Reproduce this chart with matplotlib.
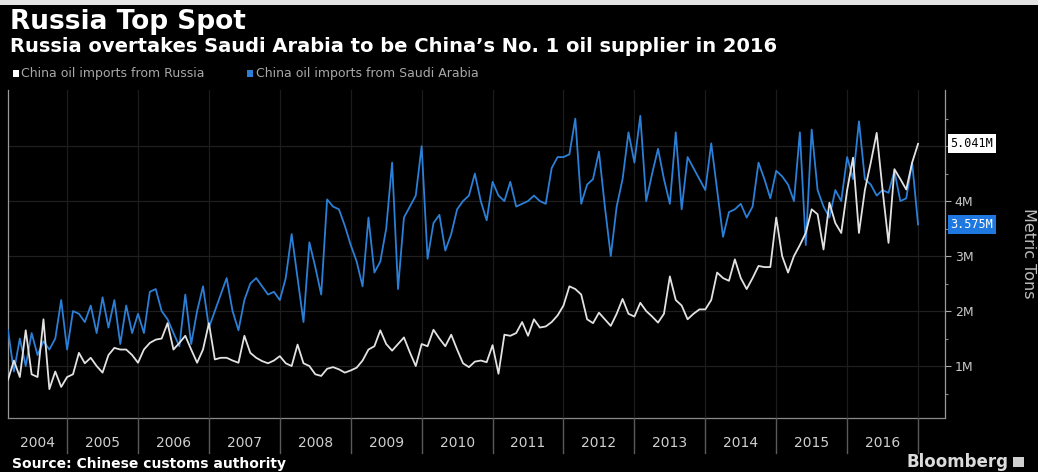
import matplotlib
matplotlib.use("Agg")
import matplotlib.pyplot as plt
from matplotlib.patches import Rectangle
import numpy as np

# ---------------- data (million metric tons, monthly Feb 2004 - Dec 2016) ----------------
start_year, start_month = 2004, 2
russia = [
    0.75, 1.1, 0.8, 1.65, 0.85, 0.8, 1.85, 0.58, 0.9, 0.62,
    0.8, 0.85, 1.24, 1.05, 1.15, 1.0, 0.88, 1.2, 1.33, 1.3,
    1.3, 1.2, 1.06, 1.3, 1.42, 1.48, 1.5, 1.78, 1.3, 1.42,
    1.55, 1.3, 1.06, 1.3, 1.78, 1.12, 1.15, 1.15, 1.1, 1.06,
    1.55, 1.24, 1.15, 1.09, 1.05, 1.1, 1.18, 1.05, 1.0, 1.39,
    1.05, 1.0, 0.85, 0.82, 0.95, 0.98, 0.94, 0.88, 0.92, 0.97,
    1.1, 1.3, 1.36, 1.65, 1.4, 1.28, 1.4, 1.52, 1.25, 1.0,
    1.4, 1.36, 1.66, 1.5, 1.36, 1.57, 1.3, 1.05, 0.98, 1.08,
    1.1, 1.07, 1.38, 0.86, 1.57, 1.55, 1.6, 1.8, 1.55, 1.85,
    1.7, 1.72, 1.8, 1.92, 2.1, 2.45, 2.4, 2.3, 1.85, 1.78,
    1.97, 1.85, 1.73, 1.95, 2.22, 1.95, 1.9, 2.15, 2.0, 1.9,
    1.79, 1.95, 2.63, 2.2, 2.1, 1.85, 1.95, 2.03, 2.03, 2.2,
    2.7, 2.6, 2.55, 2.94, 2.6, 2.4, 2.6, 2.82, 2.8, 2.8,
    3.7, 3.0, 2.7, 3.0, 3.2, 3.42, 3.85, 3.76, 3.12, 3.97,
    3.6, 3.42, 4.2, 4.79, 3.42, 4.2, 4.7, 5.24, 4.2, 3.24,
    4.58, 4.4, 4.21, 4.7, 5.041,
]
saudi = [
    1.65, 0.9, 1.5, 1.0, 1.6, 1.2, 1.45, 1.3, 1.5, 2.2,
    1.3, 2.0, 1.95, 1.8, 2.1, 1.6, 2.25, 1.7, 2.2, 1.4,
    2.1, 1.6, 1.95, 1.6, 2.35, 2.4, 2.0, 1.85, 1.6, 1.36,
    2.3, 1.4, 2.0, 2.45, 1.7, 2.0, 2.3, 2.6, 2.0, 1.65,
    2.2, 2.5, 2.6, 2.45, 2.3, 2.35, 2.2, 2.6, 3.4, 2.6,
    1.8, 3.25, 2.8, 2.3, 4.03, 3.9, 3.85, 3.55, 3.2, 2.9,
    2.45, 3.7, 2.7, 2.9, 3.5, 4.7, 2.4, 3.7, 3.9, 4.1,
    5.0, 2.95, 3.6, 3.75, 3.1, 3.4, 3.85, 4.0, 4.1, 4.5,
    4.0, 3.65, 4.35, 4.1, 4.0, 4.35, 3.9, 3.95, 4.0, 4.1,
    4.0, 3.95, 4.6, 4.8, 4.8, 4.85, 5.5, 3.95, 4.3, 4.4,
    4.9, 3.9, 3.0, 3.9, 4.4, 5.25, 4.7, 5.55, 4.0, 4.5,
    4.95, 4.4, 3.95, 5.25, 3.85, 4.8, 4.6, 4.4, 4.2, 5.05,
    4.2, 3.35, 3.8, 3.85, 3.95, 3.7, 3.9, 4.7, 4.4, 4.05,
    4.55, 4.45, 4.3, 4.0, 5.25, 3.2, 5.3, 4.2, 3.9, 3.7,
    4.2, 4.0, 4.8, 4.4, 5.45, 4.4, 4.3, 4.1, 4.2, 4.15,
    4.55, 4.0, 4.05, 4.7, 3.575,
]
years = list(range(2004, 2017))
ytick_values = [1, 2, 3, 4]
ytick_labels = ["1M", "2M", "3M", "4M"]
series_names = ["China oil imports from Russia", "China oil imports from Saudi Arabia"]

# monthly positions in decimal years (month-end)
n = len(russia)
x = np.array([start_year + (start_month + i) / 12.0 for i in range(n)])

W, H = 1038, 472
def fx(px):
    return px / W
def fy(py):
    return 1 - py / H

BLUE = "#2b7fd6"
WHITE = "#e2e2e2"

fig = plt.figure(figsize=(W / 100, H / 100), dpi=100, facecolor="black")
fig.patches.append(Rectangle((0, fy(5)), 1, 5 / H, transform=fig.transFigure,
                             facecolor="#e4e4e4", edgecolor="none"))

# main axes
ax = fig.add_axes([fx(8), (H - 418) / H, (945 - 8) / W, (418 - 90) / H])
ax.set_facecolor("black")
ax.plot(x, saudi, color=BLUE, lw=1.3, zorder=3)
ax.plot(x, russia, color=WHITE, lw=1.3, zorder=4)
xl = (x[0], 2017.38)
ax.set_xlim(*xl)
ax.set_ylim(0.055, 6.02)

for v in range(1, 6):
    ax.axhline(v, color="#1f1f1f", lw=0.9, zorder=1)
for yr in years[1:] + [2017]:
    ax.axvline(yr, color="#1c1c1c", lw=0.9, zorder=1)

ax.yaxis.tick_right()
ax.set_yticks(ytick_values)
ax.set_yticklabels(ytick_labels)
ax.set_yticks(np.arange(0.5, 6.0, 0.5), minor=True)
ax.tick_params(axis="y", which="major", colors="#aaaaaa", labelcolor="#c8c8c8",
               length=4, width=0.8, pad=3, labelsize=9)
ax.tick_params(axis="y", which="minor", colors="#888888", length=2, width=0.8)
ax.set_xticks([])
ax.spines["top"].set_visible(False)
ax.spines["left"].set_color("#9a9a9a")
ax.spines["right"].set_color("#9a9a9a")
ax.spines["bottom"].set_color("#8a8a8a")
for s in ax.spines.values():
    s.set_linewidth(0.9)

# value tags
tr = ax.get_yaxis_transform()
ax.text(1.006, russia[-1], f"{russia[-1]:.3f}M", transform=tr, ha="left", va="center",
        fontsize=8.5, color="black", family="DejaVu Sans Mono",
        bbox=dict(boxstyle="square,pad=0.25", facecolor="white", edgecolor="none"),
        clip_on=False, zorder=10)
ax.text(1.006, saudi[-1], f"{saudi[-1]:.3f}M", transform=tr, ha="left", va="center",
        fontsize=8.5, color="white", family="DejaVu Sans Mono",
        bbox=dict(boxstyle="square,pad=0.25", facecolor="#1f78e0", edgecolor="none"),
        clip_on=False, zorder=10)

# year band
band = fig.add_axes([fx(8), (H - 455) / H, (945 - 8) / W, (455 - 418) / H])
band.set_xlim(*xl)
band.set_ylim(0, 1)
band.axis("off")
for yr in years[1:] + [2017]:
    band.plot([yr, yr], [0.05, 1], color="#5a5a5a", lw=1.0)
for yr in years:
    left = max(yr, xl[0])
    band.text((left + yr + 1) / 2, 0.32, str(yr), ha="center", va="center",
              color="#cfcfcf", fontsize=10)

# titles
fig.text(fx(10), fy(29), "Russia Top Spot", fontsize=19, weight="bold", color="white",
         va="baseline")
fig.text(fx(10), fy(52), "Russia overtakes Saudi Arabia to be China\u2019s No. 1 oil supplier in 2016",
         fontsize=14, weight="bold", color="white", va="baseline")

# legend
fig.patches.append(Rectangle((fx(13), fy(77)), 6 / W, 7 / H, transform=fig.transFigure,
                             facecolor="white", edgecolor="none"))
fig.text(fx(21), fy(77), series_names[0], fontsize=9, color="#a8a8a8", va="baseline")
fig.patches.append(Rectangle((fx(247), fy(77)), 6 / W, 7 / H, transform=fig.transFigure,
                             facecolor=BLUE, edgecolor="none"))
fig.text(fx(256), fy(77), series_names[1], fontsize=9, color="#a8a8a8", va="baseline")

# axis label
fig.text(fx(1028), fy(253), "Metric Tons", rotation=270, ha="center", va="center",
         color="#bdbdbd", fontsize=11.5)

# footer
fig.text(fx(12), fy(468), "Source: Chinese customs authority", fontsize=10, weight="bold",
         color="white", va="baseline")
fig.text(fx(907), fy(467), "Bloomberg", fontsize=12, weight="bold", color="#dcdcdc",
         va="baseline")
fig.patches.append(Rectangle((fx(1013), fy(467)), 11 / W, 10 / H, transform=fig.transFigure,
                             facecolor="#cfcfcf", edgecolor="none"))

fig.savefig("out.png", dpi=100, facecolor="black")
